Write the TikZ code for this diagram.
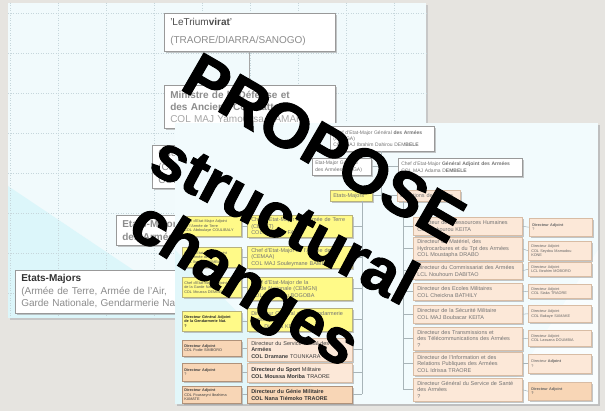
\documentclass[tikz,border=0pt]{standalone}
\usepackage{fontspec}
\setmainfont{Liberation Sans}
\newfontfamily\heavyfont{Liberation Sans}[BoldFeatures={FakeBold=1.6}]
\usetikzlibrary{shadows}
\definecolor{bg}{HTML}{E6E4E0}
\definecolor{sonefill}{HTML}{F1FAFC}
\definecolor{sonecyan}{HTML}{DCF6FA}
\definecolor{stwofill}{HTML}{F2FBFD}
\definecolor{stwocyan}{HTML}{E2F7FA}
\definecolor{gridc}{HTML}{C6D6DB}
\definecolor{ylw}{HTML}{FFFA88}
\definecolor{ylwd}{HTML}{B8B27C}
\definecolor{pch}{HTML}{FCE8D8}
\definecolor{pchd}{HTML}{D8BCA4}
\definecolor{pchk}{HTML}{F8D6B6}
\definecolor{pchkd}{HTML}{B0927A}
\definecolor{linec}{HTML}{A8B4B8}
\newcommand\obox[8][3.5]{%
  \pgfmathsetmacro\obw{#6-#4-2*#1}%
  \pgfmathsetmacro\obh{#7-#5}%
  \node[#2, inner xsep=#1pt, anchor=north west, text width=\obw pt, minimum height=\obh pt] (#3) at (#4,#5) {#8};}
\tikzset{
  basebox/.style={inner ysep=0pt, align=left, line width=0.5pt},
  shad/.style={drop shadow={shadow xshift=1.3pt, shadow yshift=-1.3pt, fill=black!40, opacity=0.55}},
  oldbox/.style={basebox, draw=black!40, fill=white, shad, text=black!45, font=\fontsize{10}{12.5}\selectfont},
  wbox/.style={basebox, draw=black!40, fill=white, shad, text=black!55, font=\fontsize{5}{6.2}\selectfont},
  ybox/.style={basebox, draw=ylwd, fill=ylw, shad, text=black!55, font=\fontsize{5.5}{6.6}\selectfont},
  ysmall/.style={basebox, draw=ylwd, fill=ylw, shad, text=black!65, font=\fontsize{3.8}{4.6}\selectfont},
  pbox/.style={basebox, draw=pchd, fill=pch, shad, text=black!55, font=\fontsize{5.5}{6.6}\selectfont},
  pboxk/.style={basebox, draw=pchkd, fill=pchk, shad, text=black!80, font=\fontsize{5.5}{6.6}\selectfont\bfseries},
  psmall/.style={basebox, draw=pchkd, fill=pchk, shad, text=black!75, font=\fontsize{3.8}{4.6}\selectfont},
  dsmall/.style={basebox, draw=pchd, fill=pch, shad, text=black!60, font=\fontsize{3.8}{4.6}\selectfont},
  conn/.style={draw=linec, line width=0.5pt},
  oldconn/.style={draw=black!35, line width=0.6pt},
  gridl/.style={draw=gridc, line width=0.5pt, dotted},
  bigword/.style={anchor=base, font=\heavyfont\fontsize{63}{63}\selectfont\bfseries, text=black, inner sep=0pt}
}
\begin{document}
\begin{tikzpicture}[x=1pt,y=-1pt]
\useasboundingbox (0,0) rectangle (605,411);
\fill[bg] (0,0) rectangle (605,411);
% ---------- first screenshot ----------
\fill[black!22] (10,5) rectangle (428,320);
\fill[sonefill] (8,3) rectangle (426,318);
\fill[sonecyan] (8,186) -- (175,298) -- (175,318) -- (8,318) -- cycle;
\foreach \gx in {10,58,...,410} \draw[gridl] (\gx,3) -- (\gx,318);
\foreach \gy in {13,53,...,313} \draw[gridl] (8,\gy) -- (426,\gy);
\obox[6]{oldbox, font=\fontsize{10}{18}\selectfont}{tri}{164}{13}{335}{51}{{\color{black!70}'LeTrium\textbf{virat}'}\\(TRAORE/DIARRA/SANOGO)}
\obox[6]{oldbox, font=\fontsize{10}{12}\selectfont}{mini}{164}{85}{335}{128}{\textbf{Ministre de la Défense et}\\\textbf{des Anciens Combattants}\\{\color{black!35}COL MAJ Yamoussa CAMARA}}
\obox[6]{oldbox, font=\fontsize{10}{13.5}\selectfont}{ocemga}{152}{145}{420}{188}{Chef d'Etat-Major Général\\(CEMGA)\\COL MAJ Ibrahim Dahirou DEMBELE}
\obox[6]{oldbox, font=\fontsize{10}{13.5}\selectfont}{oema}{116}{215}{250}{245}{\textbf{Etats-Major}\\\textbf{des Armées}}
\obox[6]{oldbox}{oem}{15}{270}{280}{313}{{\color{black!80}\textbf{Etats-Majors}}\\(Armée de Terre, Armée de l'Air,\\Garde Nationale, Gendarmerie Nationale)}
\draw[oldconn] (tri.south) -- (mini.north);
% ---------- second screenshot ----------
\fill[black!25] (177,125) rectangle (600,406);
\fill[stwofill] (175,123) rectangle (598,404);
\fill[stwocyan] (175,250) -- (330,404) -- (175,404) -- cycle;
\fill[white, opacity=0.6] (598,250) -- (598,404) -- (500,404) -- cycle;
% top part
\obox[3]{wbox}{cemga}{330}{126}{434}{151}{Chef d'Etat-Major Général \textbf{des Armées}\\(CEMGA)\\COL MAJ Ibrahim Dahirou DEM\textbf{BELE}}
\obox[3]{wbox}{emga}{312}{158}{371}{175}{Etat-Major Général\\des Armées (EMGA)}
\obox[3]{wbox}{cemgaa}{398}{158}{522}{176}{Chef d'Etat-Major \textbf{Général Adjoint des Armées}\\COL MAJ Adama D\textbf{EMBELE}}
\obox[3]{ybox}{em}{330}{190}{372}{201}{Etats-Majors}
\obox[3]{pbox}{ds}{397}{190}{460}{201}{Directions de Service}
% column B
\obox[4]{ybox}{bA}{247}{215}{352}{237}{Chef d'Etat-Major de l'Armée de Terre\\(CEMAT)\\COL Ibrahima FANE}
\obox[4]{ybox}{bB}{247}{246}{352}{268}{Chef d'Etat-Major de l'Armée de l'Air\\(CEMAA)\\COL MAJ Souleymane BAMBA}
\obox[4]{ybox}{bC}{247}{277}{352}{300}{Chef d'Etat-Major de la\\Garde Nationale (CEMGN)\\COL Mamadou BOGOBA}
\obox[4]{ybox}{bD}{247}{308}{352}{331}{Directeur Général de la Gendarmerie\\Nationale\\COL Diamou KEITA}
\obox[4]{pbox, text=black!75}{bE}{247}{338}{352}{361}{Directeur du Service Social des\\\textbf{Armées}\\\textbf{COL Dramane} TOUNKARA}
\obox[4]{pbox, text=black!80}{bF}{247}{363}{352}{382}{\textbf{Directeur du Sport} Militaire\\\textbf{COL Moussa Moriba} TRAORE}
\obox[4]{pboxk}{bG}{247}{386}{352}{403}{Directeur du Génie Militaire\\COL Nana Tiémoko TRAORE}
% column A
\obox[2]{ysmall}{aA}{182}{216}{241}{236}{Chef d'Etat-Major Adjoint\\de l'Armée de Terre\\COL Abdoulaye COULIBALY}
\obox[2]{ysmall}{aB}{182}{247}{241}{267}{Chef d'Etat-Major Adjoint\\de l'Armée de l'Air\\COL Ibrahim BAMBA}
\obox[2]{ysmall}{aC}{182}{277}{241}{297}{Chef d'Etat-Major Adjoint\\de la Garde Nationale\\COL Moussa DEMBELE}
\obox[2]{ysmall, text=black!85}{aD}{182}{311}{241}{331}{\textbf{Directeur Général Adjoint}\\\textbf{de la Gendarmerie Nat.}\\\textbf{?}}
\obox[2]{psmall}{aE}{182}{340}{241}{356}{\textbf{Directeur Adjoint}\\COL Fodie SIMBORO}
\obox[2]{psmall}{aF}{182}{363}{241}{381}{\textbf{Directeur Adjoint}\\?}
\obox[2]{psmall}{aG}{182}{386}{241}{403}{\textbf{Directeur Adjoint}\\COL Fousseyni Ibrahima\\KAMATE}
% column C
\obox[4]{pbox}{cA}{413}{217}{522}{235}{Directeur des Ressources Humaines\\COL Fakourou KEITA}
\obox[4]{pbox}{cB}{413}{237}{522}{260}{Directeur du Matériel, des\\Hydrocarbures et du Tpt des Armées\\COL Moustapha DRABO}
\obox[4]{pbox}{cC}{413}{262}{522}{279}{Directeur du Commissariat des Armées\\LCL Nouhoum DABITAO}
\obox[4]{pbox}{cD}{413}{283}{522}{300}{Directeur des Ecoles Militaires\\COL Cheickna BATHILY}
\obox[4]{pbox}{cE}{413}{305}{522}{323}{Directeur de la Sécurité Militaire\\COL MAJ Boubacar KEITA}
\obox[4]{pbox}{cF}{413}{327}{522}{350}{Directeur des Transmissions et\\des Télécommunications des Armées\\?}
\obox[4]{pbox}{cG}{413}{352}{522}{375}{Directeur de l'Information et des\\Relations Publiques des Armées\\COL Idrissa TRAORE}
\obox[4]{pbox}{cH}{413}{378}{522}{401}{Directeur Général du Service de Santé\\des Armées\\?}
% column D
\obox[3]{dsmall}{dA}{529}{218}{592}{236}{\textbf{Directeur Adjoint}\\?}
\obox[3]{dsmall}{dB}{528}{241}{591}{260}{Directeur Adjoint\\COL Seydou Mamadou\\KONE}
\obox[3]{dsmall}{dC}{528}{262}{591}{276}{Directeur Adjoint\\LCL Ibrahim MOBORO}
\obox[3]{dsmall}{dD}{528}{284}{591}{298}{Directeur Adjoint\\COL Siaka TRAORE}
\obox[3]{dsmall}{dE}{528}{305}{591}{322}{Directeur Adjoint\\COL Bakaye SAMAKE}
\obox[3]{dsmall}{dF}{528}{330}{591}{346}{Directeur Adjoint\\COL Lassana DOUMBIA}
\obox[3]{dsmall}{dG}{528}{354}{591}{373}{Directeur \textbf{Adjoint}\\?}
\obox[3]{dsmall, fill=pchk}{dH}{528}{382}{591}{400}{\textbf{Directeur Adjoint}\\\textbf{?}}
% connectors
\coordinate (tk) at (381,195);
\coordinate (lt) at (362,394.5);
\coordinate (rt) at (403,389.5);
\draw[conn] (cemga.south -| tk) -- (tk);
\draw[conn] (emga.east) -- (emga.east -| cemgaa.west);
\draw[conn] (em.east) -- (ds.west);
\draw[conn] (em.south -| lt) -- (lt);
\draw[conn] (ds.south -| rt) -- (rt);
\foreach \b in {bA,bB,bC,bD,bE,bF,bG} \draw[conn] (\b.east) -- (\b.east -| lt);
\foreach \c in {cA,cB,cC,cD,cE,cF,cG,cH} \draw[conn] (\c.west) -- (\c.west -| rt);
\foreach \a/\b in {aA/bA,aB/bB,aC/bC,aD/bD,aE/bE,aF/bF,aG/bG} \draw[conn] (\a.east) -- (\a.east -| \b.west);
\foreach \c/\d in {cA/dA,cB/dB,cC/dC,cD/dD,cE/dE,cF/dF,cG/dG,cH/dH} \draw[conn] (\c.east) -- (\d.west);
% ---------- big text ----------
\node[bigword, rotate=-30] (wA) at (313.5,166.4) {PROPOSE};
\node[bigword, rotate=-28] (wB) at (274.6,238.4) {structural};
\node[bigword, rotate=-32] (wC) at (234.2,300.9) {changes};
\end{tikzpicture}
\end{document}
